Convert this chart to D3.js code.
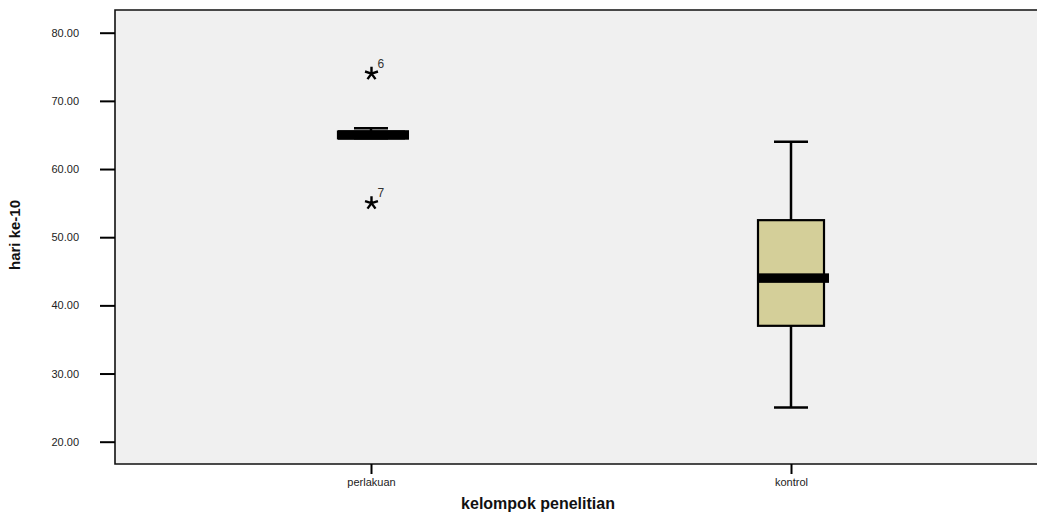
<!DOCTYPE html>
<html>
<head>
<meta charset="utf-8">
<script src="https://cdn.jsdelivr.net/npm/d3@7"></script>
<style>
  html, body { margin: 0; padding: 0; background: #ffffff; }
  svg { display: block; font-family: "Liberation Sans", Arial, sans-serif; }
</style>
</head>
<body>
<svg id="chart" width="1037" height="515"></svg>
<script>
// Group labels and box-plot statistics (hari ke-10)
const groups = ["perlakuan", "kontrol"];
const whiskerLow  = [64.5, 25];
const quartile1   = [64.5, 37];
const medians     = [65, 44];
const quartile3   = [65.5, 52.5];
const whiskerHigh = [66, 64];
// Extreme values: group, value, case number
const extremeGroup = ["perlakuan", "perlakuan"];
const extremeValue = [74, 55];
const extremeCase  = ["6", "7"];
const yTicks = [20, 30, 40, 50, 60, 70, 80];

const svg = d3.select("#chart");
const frame = { left: 115, top: 10, bottom: 464, right: 1047 };

const x = d3.scalePoint().domain(groups).range([frame.left, frame.right]).padding(0.6095);
const y = d3.scaleLinear().domain([20, 80]).range([441.7, 32.7]);

// plot background
svg.append("rect")
  .attr("x", frame.left).attr("y", frame.top)
  .attr("width", frame.right - frame.left).attr("height", frame.bottom - frame.top)
  .attr("fill", "#f0f0f0");

// frame lines
svg.append("path")
  .attr("d", `M${frame.right},${frame.top}H${frame.left}V${frame.bottom}H${frame.right}`)
  .attr("fill", "none").attr("stroke", "#111").attr("stroke-width", 1.6);

// y axis
const yAxis = d3.axisLeft(y).tickValues(yTicks).tickFormat(d3.format(".2f"))
  .tickSize(15).tickPadding(21);
const gy = svg.append("g").attr("transform", `translate(${frame.left},0)`).call(yAxis);
gy.select(".domain").remove();
gy.selectAll(".tick line").attr("stroke", "#000").attr("stroke-width", 2);
gy.selectAll(".tick text").attr("font-size", 11).attr("fill", "#222")
  .attr("font-family", "Liberation Sans, Arial, sans-serif");

// x axis
const xAxis = d3.axisBottom(x).tickSize(10).tickPadding(4);
const gx = svg.append("g").attr("transform", `translate(0,${frame.bottom})`).call(xAxis);
gx.select(".domain").remove();
gx.selectAll(".tick line").attr("stroke", "#000").attr("stroke-width", 2);
gx.selectAll(".tick text").attr("font-size", 11).attr("fill", "#222")
  .attr("font-family", "Liberation Sans, Arial, sans-serif");

// box plots
const boxW = 66, capW = 34, medExtraRight = 5, medThick = 9.5;
const boxes = groups.map((g, i) => ({
  g, lo: whiskerLow[i], q1: quartile1[i], med: medians[i], q3: quartile3[i], hi: whiskerHigh[i]
}));
const gb = svg.append("g").selectAll("g").data(boxes).join("g");

// whiskers
gb.append("line")
  .attr("x1", d => x(d.g)).attr("x2", d => x(d.g))
  .attr("y1", d => y(d.q3)).attr("y2", d => y(d.hi))
  .attr("stroke", "#000").attr("stroke-width", 2.5);
gb.append("line")
  .attr("x1", d => x(d.g)).attr("x2", d => x(d.g))
  .attr("y1", d => y(d.q1)).attr("y2", d => y(d.lo))
  .attr("stroke", "#000").attr("stroke-width", 2.5);
// caps
gb.append("line")
  .attr("x1", d => x(d.g) - capW / 2).attr("x2", d => x(d.g) + capW / 2)
  .attr("y1", d => y(d.hi)).attr("y2", d => y(d.hi))
  .attr("stroke", "#000").attr("stroke-width", 2.5);
gb.append("line")
  .attr("x1", d => x(d.g) - capW / 2).attr("x2", d => x(d.g) + capW / 2)
  .attr("y1", d => y(d.lo)).attr("y2", d => y(d.lo))
  .attr("stroke", "#000").attr("stroke-width", 2.5);
// box
gb.append("rect")
  .attr("x", d => x(d.g) - boxW / 2).attr("width", boxW)
  .attr("y", d => y(d.q3)).attr("height", d => y(d.q1) - y(d.q3))
  .attr("fill", "#d4cf99").attr("stroke", "#000").attr("stroke-width", 2.2);
// median
gb.append("rect")
  .attr("x", d => x(d.g) - boxW / 2).attr("width", boxW + medExtraRight)
  .attr("y", d => y(d.med) - medThick / 2).attr("height", medThick)
  .attr("fill", "#000");

// extreme values drawn as five-armed stars
const extremes = extremeValue.map((v, i) => ({ g: extremeGroup[i], v, c: extremeCase[i] }));
const ge = svg.append("g").selectAll("g").data(extremes).join("g")
  .attr("transform", d => `translate(${x(d.g) + 0.5},${y(d.v)})`);
const armLen = 6.8;
ge.append("path")
  .attr("d", d3.range(5).map(k => {
    const a = -Math.PI / 2 + k * 2 * Math.PI / 5;
    return `M0,0L${(armLen * Math.cos(a)).toFixed(2)},${(armLen * Math.sin(a)).toFixed(2)}`;
  }).join(""))
  .attr("stroke", "#000").attr("stroke-width", 2.4).attr("stroke-linecap", "butt").attr("fill", "none");
ge.append("text")
  .attr("x", 6).attr("y", -6)
  .attr("font-size", 12).attr("fill", "#333")
  .text(d => d.c);

// axis titles
svg.append("text")
  .attr("x", 538).attr("y", 509)
  .attr("text-anchor", "middle")
  .attr("font-size", 16).attr("font-weight", "bold").attr("fill", "#111")
  .text("kelompok penelitian");
svg.append("text")
  .attr("transform", "translate(20,235) rotate(-90)")
  .attr("text-anchor", "middle")
  .attr("font-size", 15).attr("font-weight", "bold").attr("fill", "#111")
  .text("hari ke-10");
</script>
</body>
</html>
